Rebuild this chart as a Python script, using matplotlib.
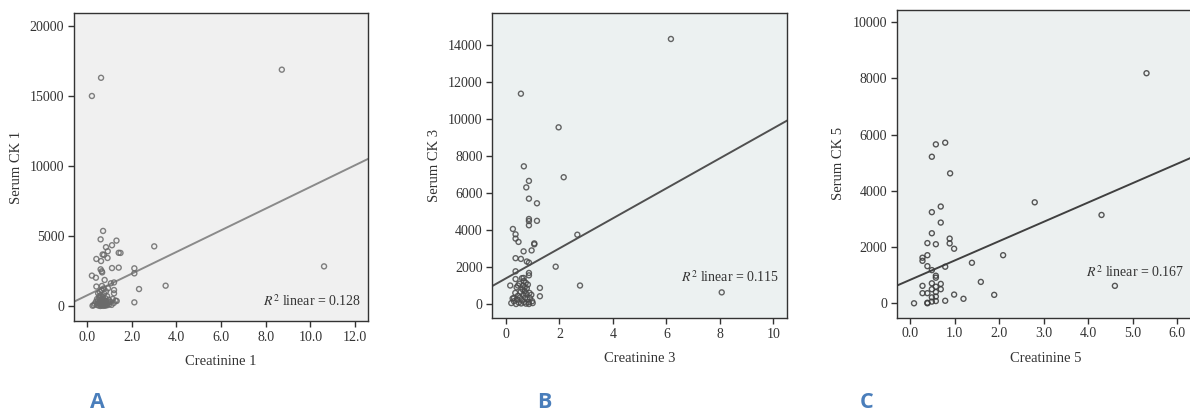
#!/usr/bin/env python3
import matplotlib
matplotlib.use('Agg')
import matplotlib.pyplot as plt

# Panel A: creatinine 1 vs serum CK 1.
creat_1 = [0.63, 0.22, 8.72, 10.61, 3.01, 3.52, 2.33, 2.12, 2.12, 2.12,
           0.72, 0.61, 1.32, 1.12, 0.85, 0.93, 0.76, 0.70, 1.42, 1.50, 0.42, 0.63, 0.92,
           0.61, 0.66, 0.68, 1.12, 1.42, 0.22, 0.40, 0.79, 1.07, 1.21, 0.42, 0.67, 0.94, 1.21, 1.21, 1.33,
           0.25, 0.30, 0.35, 0.40, 0.45, 0.48, 0.50, 0.52, 0.55, 0.56, 0.58, 0.60, 0.62, 0.63, 0.65,
           0.66, 0.68, 0.70, 0.71, 0.72, 0.74, 0.75, 0.77, 0.78, 0.80, 0.82, 0.84, 0.86, 0.88, 0.90,
           0.92, 0.95, 0.98, 1.00, 1.05, 1.10, 1.15, 1.20, 1.28, 0.58, 0.65, 0.85, 0.50, 0.75, 0.45,
           0.60, 0.55, 0.68, 0.80, 0.70]
ck_1 = [16300, 15000, 16880, 2830, 4260, 1450, 1210, 260, 2690, 2330,
        5360, 4760, 4670, 4340, 4200, 3910, 3650, 3680, 3800, 3790, 3360, 3210, 3430,
        2620, 2480, 2400, 2710, 2740, 2170, 2020, 1860, 1620, 1680, 1390, 1430, 1260, 1140, 900, 360,
        20, 60, 150, 300, 80, 200, 420, 30, 250, 600, 120, 350, 780, 50, 200,
        500, 90, 300, 650, 10, 180, 420, 880, 100, 260, 550, 40, 330, 150, 700,
        60, 240, 450, 120, 300, 80, 500, 220, 380, 1000, 1150, 1050, 900, 1250, 500,
        0, 700, 380, 30, 130]

# Panel B: creatinine 3 vs serum CK 3.
creat_3 = [6.17, 0.56, 1.97, 0.67, 2.16, 0.86, 0.76, 0.86, 1.16, 0.86, 0.86, 1.16, 0.86,
           0.26, 0.36, 0.36, 0.47, 1.06, 1.06, 2.67, 0.96, 0.66, 0.36, 0.56, 0.78, 0.86,
           1.86, 0.36, 0.86, 0.86, 0.66, 0.36, 2.77, 8.07, 1.27, 1.27, 0.16,
           0.20, 0.25, 0.30, 0.35, 0.38, 0.40, 0.42, 0.45, 0.48, 0.50, 0.52, 0.55, 0.57,
           0.60, 0.62, 0.64, 0.65, 0.67, 0.68, 0.70, 0.70, 0.72, 0.74, 0.75, 0.76, 0.78,
           0.80, 0.82, 0.85, 0.86, 0.88, 0.90, 0.95, 0.98, 1.00, 0.45, 0.60, 0.30]
ck_3 = [14340, 11380, 9560, 7450, 6860, 6660, 6310, 5700, 5450, 4600, 4490, 4500, 4260,
        4060, 3770, 3540, 3360, 3280, 3230, 3750, 2900, 2850, 2480, 2440, 2300, 2240,
        2020, 1770, 1680, 1550, 1410, 1350, 1000, 630, 870, 420, 1000,
        50, 300, 150, 600, 0, 900, 250, 450, 80, 1100, 350, 650, 30,
        200, 800, 1000, 500, 1250, 100, 700, 900, 350, 1150, 20, 550, 850,
        250, 1050, 100, 0, 600, 320, 500, 150, 50, 1000, 1400, 330]

# Panel C: creatinine 5 vs serum CK 5.
creat_5 = [5.31, 0.79, 0.58, 0.49, 0.90, 2.80, 4.30, 0.69, 0.49, 0.69, 0.49, 0.39,
           0.58, 0.89, 0.89, 0.99, 2.09, 0.28, 0.28, 0.39, 0.39, 0.49, 0.79, 1.39,
           0.58, 0.58, 1.59, 4.60, 0.28, 0.49, 0.58, 0.69, 0.69, 0.49, 0.28, 0.39,
           0.99, 1.89, 1.20, 0.79, 0.09, 0.39, 0.39, 0.49, 0.49, 0.58, 0.58, 0.58]
ck_5 = [8180, 5710, 5650, 5210, 4620, 3590, 3140, 3440, 3240, 2870, 2490, 2140,
        2100, 2300, 2130, 1940, 1710, 1620, 1510, 1710, 1320, 1180, 1300, 1440,
        980, 910, 760, 620, 620, 710, 590, 690, 500, 500, 360, 360,
        310, 300, 160, 90, 0, 20, 0, 210, 60, 240, 80, 400]

# Fit lines as printed on the figure (intercept, slope) and R squared.
fit_intercepts = [757, 1388, 832]
fit_slopes = [775, 812, 688]
r_squared = ['0.128', '0.115', '0.167']

x_labels = ['Creatinine 1', 'Creatinine 3', 'Creatinine 5']
y_labels = ['Serum CK 1', 'Serum CK 3', 'Serum CK 5']
panel_letters = ['A', 'B', 'C']

plt.rcParams['font.family'] = ['Liberation Serif', 'DejaVu Serif']

fig = plt.figure(figsize = (11.9, 4.12), dpi = 100)

boxes = [[0.0622, 0.2209, 0.2471, 0.7476],
         [0.4137, 0.2274, 0.2474, 0.7418],
         [0.7535, 0.2289, 0.2500, 0.7468]]
xlims = [(-0.58, 12.58), (-0.51, 10.5), (-0.30, 6.38)]
ylims = [(-1071, 20929), (-774, 15763), (-512, 10427)]
xticks = [[0, 2, 4, 6, 8, 10, 12], [0, 2, 4, 6, 8, 10], [0, 1, 2, 3, 4, 5, 6]]
xfmt = ['{:.1f}', '{:.0f}', '{:.1f}']
yticks = [[0, 5000, 10000, 15000, 20000],
          [0, 2000, 4000, 6000, 8000, 10000, 12000, 14000],
          [0, 2000, 4000, 6000, 8000, 10000]]
face_colors = ['#f0f0f0', '#ecf1f1', '#ecf0f0']
line_colors = ['#8a8a8a', '#505050', '#404040']
mark_colors = ['#6a6a6a', '#4a4a4a', '#3a3a3a']
text_pos = [(0.976, 0.063), (0.974, 0.136), (0.966, 0.149)]
letter_x = [97, 544, 867]

xs_all = [creat_1, creat_3, creat_5]
ys_all = [ck_1, ck_3, ck_5]

for i in range(3):
   ax = fig.add_axes(boxes[i])
   ax.set_facecolor(face_colors[i])
   ax.scatter(xs_all[i], ys_all[i], s = 13, facecolors = 'none',
              edgecolors = mark_colors[i], linewidths = 1.0, alpha = 0.85, zorder = 3)
   ax.axline((0, fit_intercepts[i]), slope = fit_slopes[i], color = line_colors[i],
             linewidth = 1.4, zorder = 2)
   ax.set_xlim(*xlims[i])
   ax.set_ylim(*ylims[i])
   ax.set_xticks(xticks[i])
   ax.set_xticklabels([xfmt[i].format(v) for v in xticks[i]])
   ax.set_yticks(yticks[i])
   ax.tick_params(direction = 'out', length = 4, width = 1, color = '#333333',
                  labelsize = 10, labelcolor = '#333333', pad = 3)
   for side in ax.spines.values():
      side.set_color('#333333')
      side.set_linewidth(1.0)
   ax.set_xlabel(x_labels[i], fontsize = 10.5, color = '#333333', labelpad = 8)
   ax.set_ylabel(y_labels[i], fontsize = 10.5, color = '#333333', labelpad = 5)
   ax.text(text_pos[i][0], text_pos[i][1], r'$R^2$ linear = ' + r_squared[i],
           transform = ax.transAxes, ha = 'right', va = 'center', fontsize = 10,
           color = '#333333', math_fontfamily = 'stix')
   fig.text(letter_x[i] / 1190, 1 - 403 / 412, panel_letters[i], ha = 'center', va = 'center',
            fontsize = 15.5, fontweight = 'bold', color = '#4a7ebb', family = 'Open Sans')

fig.savefig('out.png', dpi = 100)
